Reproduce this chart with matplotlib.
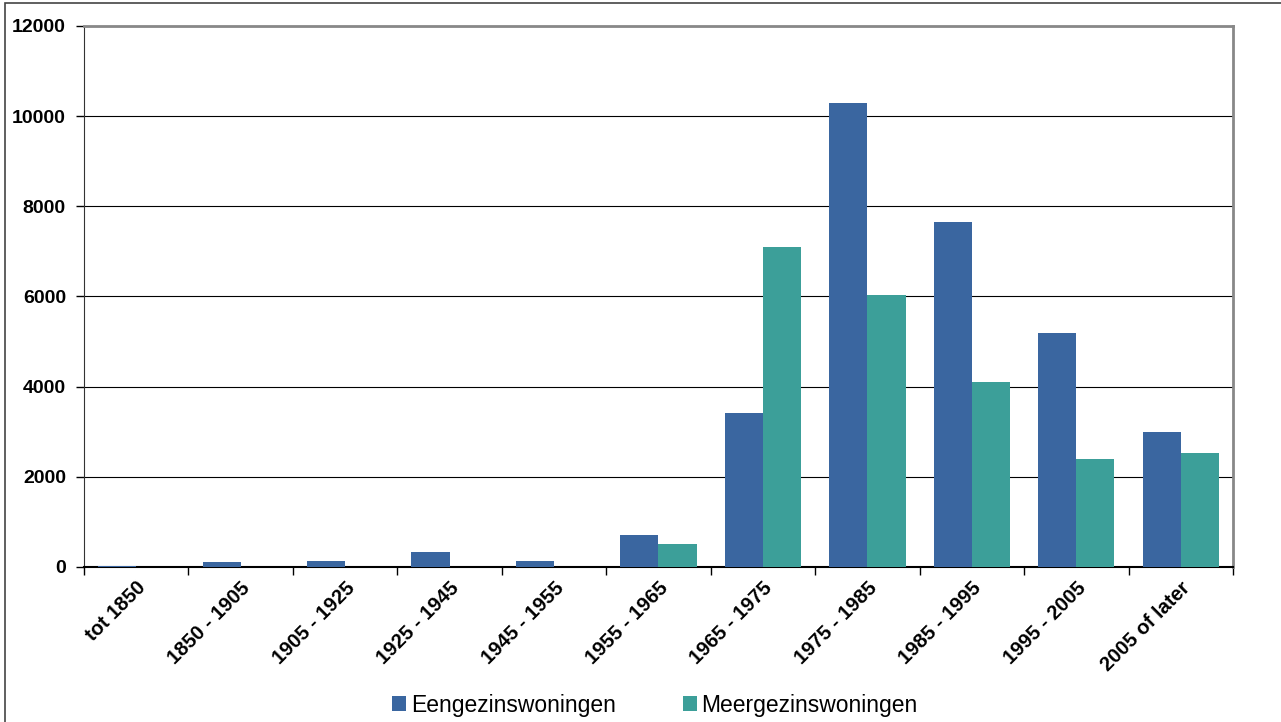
import matplotlib.pyplot as plt
import numpy as np
from matplotlib.patches import Rectangle

categories = ['tot 1850', '1850 - 1905', '1905 - 1925', '1925 - 1945', '1945 - 1955',
              '1955 - 1965', '1965 - 1975', '1975 - 1985', '1985 - 1995',
              '1995 - 2005', '2005 of later']
eengezins = [25, 110, 135, 330, 125, 710, 3415, 10290, 7650, 5190, 2995]
meergezins = [10, 5, 5, 10, 10, 510, 7100, 6030, 4100, 2395, 2530]
yticks = [0, 2000, 4000, 6000, 8000, 10000, 12000]

plt.rcParams['font.family'] = ['Liberation Sans', 'DejaVu Sans']

fig = plt.figure(figsize=(12.81, 7.22), dpi=100)
ax = fig.add_axes([0.0656, 0.2147, 0.8969, 0.7493])

x = np.arange(len(categories))
w = 0.365
ax.bar(x - w / 2, eengezins, w, color='#3A66A0', label='Eengezinswoningen', zorder=3)
ax.bar(x + w / 2, meergezins, w, color='#3C9F99', label='Meergezinswoningen', zorder=3)

ax.set_xlim(-0.5, len(categories) - 0.5)
ax.set_ylim(0, 12000)
ax.set_yticks(yticks)
ax.set_yticklabels([str(v) for v in yticks], fontsize=14, fontweight='bold')
ax.yaxis.grid(True, color='black', linewidth=0.8, zorder=0)

ax.set_xticks(np.arange(len(categories) + 1) - 0.5, minor=False)
ax.set_xticklabels([])
ax.set_xticks(x, minor=True)
ax.set_xticklabels(categories, minor=True, rotation=45, ha='right', rotation_mode='anchor',
                   fontsize=14.5, fontweight='bold')
ax.tick_params(axis='x', which='minor', length=0, pad=8)
ax.tick_params(axis='x', which='major', length=6, width=1, direction='out')
ax.tick_params(axis='y', length=6, width=1, direction='out', pad=7)

for side in ['top', 'right']:
    ax.spines[side].set_color('#888888')
    ax.spines[side].set_linewidth(2)
ax.spines['left'].set_color('#333333')
ax.spines['bottom'].set_color('black')
ax.spines['bottom'].set_linewidth(1.5)

ax.legend(loc='lower center', bbox_to_anchor=(0.497, -0.315), ncol=2, frameon=False,
          fontsize=16.5, handlelength=0.6, handleheight=0.6, handletextpad=0.2,
          columnspacing=2.95)

fig.patches.append(Rectangle((5 / 1281, -0.1), 1.2, 1 - 3 / 722 + 0.1,
                             transform=fig.transFigure, fill=False,
                             edgecolor='#444444', linewidth=1.2))

fig.savefig('out.png', dpi=100)
